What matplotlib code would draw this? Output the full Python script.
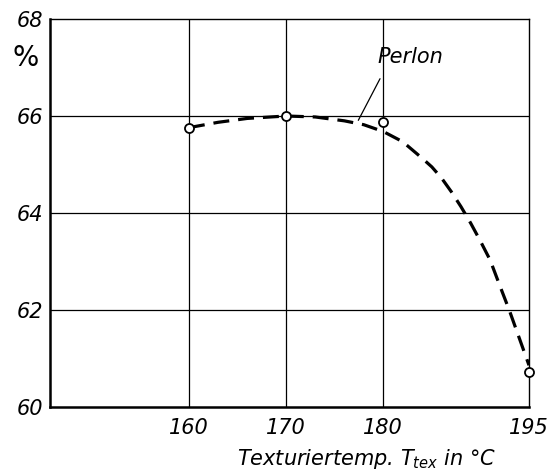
import matplotlib
matplotlib.use("Agg")
import matplotlib.pyplot as plt

# measured points
temp = [160, 170, 180, 195]
value = [65.76, 66.0, 65.88, 60.73]

# dashed trend curve
curve_x = [160, 163, 166, 170, 173, 176, 178, 180, 182, 184, 185, 186, 187, 188, 189,
           190, 191, 192, 193, 194, 195]
curve_y = [65.76, 65.87, 65.95, 66.0, 65.98, 65.9, 65.82, 65.68, 65.47, 65.13, 64.95,
           64.72, 64.44, 64.13, 63.79, 63.42, 63.03, 62.5, 61.98, 61.42, 60.86]

xticks = [160, 170, 180, 195]
yticks = [60, 62, 64, 66, 68]

plt.rcParams['font.family'] = ['DejaVu Sans']
plt.rcParams['mathtext.fontset'] = 'dejavusans'
plt.rcParams['mathtext.default'] = 'it'

fig = plt.figure(figsize=(5.49, 4.72), dpi=100)
ax = fig.add_axes([50/549, 1-407/472, (529-50)/549, (407-19)/472])
ax.set_xlim(145.7, 195)
ax.set_ylim(60, 68)

for x in [160, 170, 180]:
    ax.axvline(x, color='black', lw=0.9, zorder=1)
for y in [62, 64, 66]:
    ax.axhline(y, color='black', lw=0.9, zorder=1)

ax.plot(curve_x, curve_y, color='black', lw=2.3, dashes=(5, 2.8), zorder=2)
ax.plot(temp, value, 'o', ms=6.5, mfc='white', mec='black', mew=1.3, zorder=3,
        clip_on=False)

ax.spines['left'].set_linewidth(1.8)
ax.spines['bottom'].set_linewidth(1.8)
ax.spines['top'].set_linewidth(1.0)
ax.spines['right'].set_linewidth(1.0)

ax.set_xticks(xticks)
ax.set_yticks(yticks)
ax.tick_params(axis='x', length=0, labelsize=15, pad=8)
ax.tick_params(axis='y', length=0, labelsize=15, pad=5)
for lab in ax.get_xticklabels() + ax.get_yticklabels():
    lab.set_fontstyle('italic')

fig.text(26/549, 1-58/472, '%', fontsize=20, ha='center', va='center')
fig.text(367/549, 1-459/472, r'Texturiertemp. $T_{tex}$ in °C', fontsize=15,
         style='italic', ha='center', va='center')

ax.text(182.8, 67.22, 'Perlon', fontsize=15, style='italic', ha='center', va='center')
ax.annotate('', xy=(177.3, 65.86), xytext=(179.8, 66.82),
            arrowprops=dict(arrowstyle='-', color='black', lw=0.9))

fig.savefig('out.png', dpi=100)
